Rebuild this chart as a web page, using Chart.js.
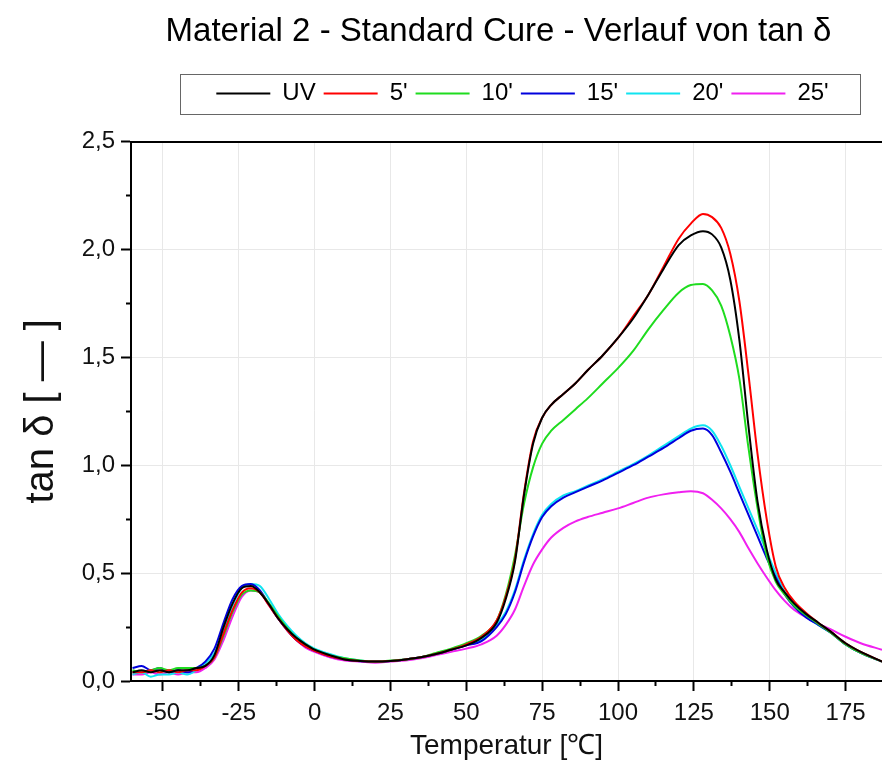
<!DOCTYPE html>
<html>
<head>
<meta charset="utf-8">
<script src="https://cdn.jsdelivr.net/npm/chart.js@4/dist/chart.umd.min.js"></script>
<style>
  html, body { margin: 0; padding: 0; background: #fff; }
  #wrap { width: 882px; height: 764px; }
</style>
</head>
<body>
<div id="wrap"><canvas id="tanDelta" width="882" height="764"></canvas></div>
<script>
// temperature points (°C), shared by all series
const temps = [-60, -57, -54, -51, -48, -45, -42, -39, -36, -33, -30, -27, -24, -21, -18, -15, -12, -9, -6, -3,
  0, 5, 10, 15, 20, 25, 30, 35, 40, 45, 50, 55, 60, 63, 66, 69, 72, 75, 78, 82, 86, 90,
  95, 100, 105, 110, 115, 120, 124, 128, 131, 134, 137, 140, 143, 146, 149, 152, 155, 158,
  162, 166, 170, 175, 180, 187];

const seriesNames = ['UV', "5'", "10'", "15'", "20'", "25'"];

// tan delta values
const tanUV = [0.04, 0.05, 0.04, 0.05, 0.04, 0.05, 0.05, 0.06, 0.07, 0.12, 0.25, 0.36, 0.43, 0.44, 0.41, 0.355, 0.29, 0.24, 0.20, 0.17,
  0.145, 0.12, 0.10, 0.093, 0.09, 0.093, 0.10, 0.11, 0.125, 0.145, 0.165, 0.20, 0.27,
  0.38, 0.55, 0.86, 1.10, 1.22, 1.28, 1.33, 1.38, 1.44,
  1.51, 1.59, 1.68, 1.79, 1.91, 2.02, 2.065, 2.085,
  2.07, 2.01, 1.86, 1.58, 1.18, 0.83, 0.61, 0.47, 0.41, 0.36,
  0.31, 0.27, 0.23, 0.175, 0.135, 0.09];
const tan5 = [0.04, 0.04, 0.05, 0.04, 0.05, 0.04, 0.05, 0.05, 0.07, 0.11, 0.22, 0.33, 0.41, 0.43, 0.41, 0.35, 0.29, 0.235, 0.19, 0.16,
  0.14, 0.115, 0.10, 0.093, 0.09, 0.093, 0.10, 0.11, 0.125, 0.145, 0.17, 0.205, 0.28,
  0.39, 0.56, 0.87, 1.11, 1.22, 1.28, 1.33, 1.38, 1.44,
  1.51, 1.59, 1.69, 1.79, 1.92, 2.05, 2.12, 2.165,
  2.15, 2.10, 1.98, 1.76, 1.42, 1.05, 0.75, 0.53, 0.43, 0.37,
  0.315, 0.27, 0.23, 0.175, 0.135, 0.09];
const tan10 = [0.05, 0.04, 0.05, 0.06, 0.05, 0.06, 0.06, 0.06, 0.07, 0.11, 0.21, 0.32, 0.40, 0.42, 0.41, 0.36, 0.30, 0.245, 0.20, 0.17,
  0.145, 0.12, 0.105, 0.095, 0.09, 0.095, 0.10, 0.11, 0.13, 0.15, 0.175, 0.21, 0.28,
  0.40, 0.58, 0.82, 0.99, 1.10, 1.16, 1.21, 1.26, 1.31,
  1.38, 1.45, 1.53, 1.63, 1.72, 1.80, 1.835, 1.84,
  1.81, 1.74, 1.60, 1.40, 1.08, 0.80, 0.58, 0.46, 0.40, 0.35,
  0.305, 0.265, 0.225, 0.17, 0.13, 0.09];
const tan15 = [0.06, 0.07, 0.05, 0.06, 0.04, 0.05, 0.04, 0.06, 0.09, 0.15, 0.27, 0.38, 0.44, 0.45, 0.42, 0.355, 0.29, 0.235, 0.19, 0.16,
  0.14, 0.115, 0.10, 0.092, 0.09, 0.093, 0.10, 0.11, 0.125, 0.145, 0.165, 0.185, 0.25,
  0.31, 0.41, 0.55, 0.67, 0.76, 0.81, 0.85, 0.875, 0.90,
  0.93, 0.965, 1.00, 1.04, 1.08, 1.125, 1.16, 1.17,
  1.14, 1.06, 0.97, 0.87, 0.77, 0.67, 0.57, 0.48, 0.40, 0.345,
  0.295, 0.26, 0.225, 0.17, 0.13, 0.09];
const tan20 = [0.03, 0.04, 0.02, 0.03, 0.03, 0.04, 0.03, 0.05, 0.08, 0.13, 0.23, 0.35, 0.43, 0.45, 0.44, 0.38, 0.31, 0.255, 0.21, 0.175,
  0.15, 0.125, 0.105, 0.095, 0.09, 0.093, 0.10, 0.11, 0.125, 0.145, 0.17, 0.19, 0.26,
  0.32, 0.42, 0.56, 0.68, 0.77, 0.82, 0.86, 0.88, 0.905,
  0.935, 0.97, 1.005, 1.045, 1.09, 1.135, 1.17, 1.185,
  1.16, 1.09, 1.00, 0.90, 0.80, 0.70, 0.60, 0.50, 0.41, 0.355,
  0.30, 0.26, 0.225, 0.17, 0.13, 0.09];
const tan25 = [0.03, 0.03, 0.04, 0.03, 0.04, 0.03, 0.04, 0.04, 0.06, 0.10, 0.19, 0.30, 0.39, 0.42, 0.41, 0.35, 0.29, 0.235, 0.19, 0.155,
  0.135, 0.11, 0.095, 0.09, 0.085, 0.09, 0.095, 0.105, 0.12, 0.135, 0.15, 0.17, 0.21,
  0.26, 0.33, 0.44, 0.54, 0.61, 0.665, 0.71, 0.74, 0.76,
  0.78, 0.80, 0.825, 0.85, 0.865, 0.875, 0.88, 0.87,
  0.84, 0.80, 0.75, 0.69, 0.615, 0.545, 0.48, 0.42, 0.37, 0.33,
  0.295, 0.265, 0.24, 0.205, 0.175, 0.145];

const allSeries = [tanUV, tan5, tan10, tan15, tan20, tan25];
const lineColors = ['#000000', '#ff0000', '#1fdc1f', '#0000dd', '#10e4f0', '#f020f0'];

// labelled ticks; the in-between ones are minor ticks
const xMajor = [-50, -25, 0, 25, 50, 75, 100, 125, 150, 175];
const yMajor = [0, 0.5, 1.0, 1.5, 2.0, 2.5];

const isMajor = (list, v) => list.some(m => Math.abs(m - v) < 1e-6);

Chart.defaults.font.family = "'Liberation Sans', Arial, sans-serif";
Chart.defaults.color = '#111';

const legendFrame = {
  id: 'legendFrame',
  afterLayout(chart) {
    chart.legend.left += 16;
    chart.legend.right += 16;
    if (chart.titleBlock) {
      chart.titleBlock.left -= 8;
      chart.titleBlock.right -= 8;
    }
  },
  afterDraw(chart) {
    const lg = chart.legend;
    const boxes = lg.legendHitBoxes;
    if (!boxes || !boxes.length) return;
    const l = Math.min(...boxes.map(b => b.left));
    const r = Math.max(...boxes.map(b => b.left + b.width));
    const ctx = chart.ctx;
    ctx.save();
    ctx.strokeStyle = '#666';
    ctx.lineWidth = 1;
    ctx.strokeRect(Math.round(l - 36) + 0.5, Math.round(lg.top) + 0.5, Math.round(r - l + 68), Math.round(lg.height) - 2);
    ctx.restore();
  }
};

const ctx = document.getElementById('tanDelta').getContext('2d');
new Chart(ctx, {
  type: 'line',
  data: {
    datasets: allSeries.map((vals, i) => ({
      label: seriesNames[i],
      data: temps.map((t, k) => ({ x: t, y: vals[k] })),
      borderColor: lineColors[i],
      backgroundColor: lineColors[i],
      borderWidth: 2,
      pointRadius: 0,
      cubicInterpolationMode: 'monotone',
      fill: false
    }))
  },
  options: {
    responsive: false,
    devicePixelRatio: 1,
    animation: false,
    layout: { padding: 0 },
    plugins: {
      title: {
        display: true,
        text: 'Material 2 - Standard Cure - Verlauf von tan δ',
        fullSize: false,
        color: '#000',
        font: { size: 33, weight: 'normal' },
        padding: { top: 12, bottom: 22 }
      },
      legend: {
        fullSize: false,
        labels: {
          color: '#000',
          font: { size: 24 },
          boxWidth: 54,
          boxHeight: 0,
          padding: 8
        }
      },
      tooltip: { enabled: false }
    },
    scales: {
      x: {
        type: 'linear',
        min: -60.5,
        max: 187,
        afterFit: s => { s.height = 83; },
        border: { color: '#000', width: 2 },
        grid: {
          color: c => isMajor(xMajor, c.tick.value) ? '#e8e8e8' : 'rgba(0,0,0,0)',
          tickColor: '#000',
          tickLength: 10,
          tickWidth: 2,
          tickBorderDash: c => isMajor(xMajor, c.tick.value) ? [] : [4, 100]
        },
        ticks: {
          stepSize: 12.5,
          includeBounds: false,
          autoSkip: false,
          maxRotation: 0,
          padding: 8,
          font: { size: 24 },
          callback: v => isMajor(xMajor, v) ? String(v) : ''
        },
        title: {
          display: true,
          text: 'Temperatur [℃]',
          color: '#111',
          font: { size: 28 },
          padding: { top: 0, bottom: 1 }
        }
      },
      xTop: {
        type: 'linear',
        position: 'top',
        min: -60.5,
        max: 187,
        afterFit: s => { s.height = 26; },
        border: { color: '#000', width: 2 },
        grid: { display: false, drawTicks: false },
        ticks: { display: false }
      },
      y: {
        min: 0,
        max: 2.5,
        afterFit: s => { s.width = 131; },
        border: { color: '#000', width: 2 },
        grid: {
          color: c => isMajor(yMajor, c.tick.value) ? '#e8e8e8' : 'rgba(0,0,0,0)',
          tickColor: '#000',
          tickLength: 10,
          tickWidth: 2,
          tickBorderDash: c => isMajor(yMajor, c.tick.value) ? [] : [0, 5, 5, 100]
        },
        ticks: {
          stepSize: 0.25,
          autoSkip: false,
          padding: 6,
          font: { size: 24 },
          callback: v => isMajor(yMajor, v) ? v.toFixed(1).replace('.', ',') : ''
        },
        title: {
          display: true,
          text: 'tan δ [ — ]',
          color: '#111',
          font: { size: 40 },
          padding: { top: 18, bottom: 0 }
        }
      }
    }
  },
  plugins: [legendFrame]
});
</script>
</body>
</html>
